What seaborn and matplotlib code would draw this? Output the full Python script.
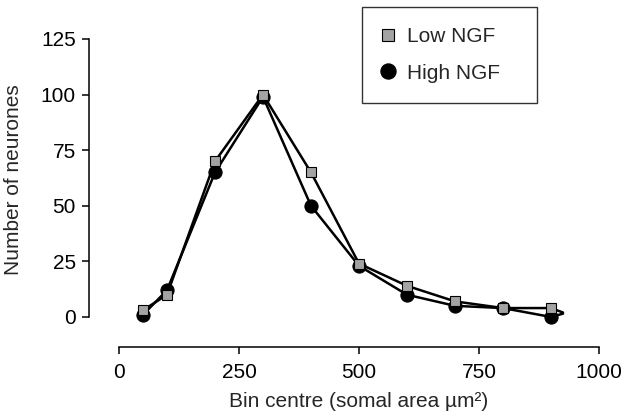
import numpy as np
import pandas as pd
import matplotlib
matplotlib.use('Agg')
import matplotlib.pyplot as plt
import seaborn as sns
from matplotlib.lines import Line2D

sns.set_style('white')
plt.rcParams['font.family'] = ['Liberation Sans', 'DejaVu Sans']

# data (last bin has no marker, the lines just run on a bit)
bin_centre = [50, 100, 200, 300, 400, 500, 600, 700, 800, 900, 925]
low_ngf = [3, 10, 70, 100, 65, 24, 14, 7, 4, 4, 2]
high_ngf = [1, 12, 65, 99, 50, 23, 10, 5, 4, 0, 1.5]
n_marked = 10

x_ticks = [0, 250, 500, 750, 1000]
y_ticks = [0, 25, 50, 75, 100, 125]

df = pd.DataFrame({'bin': bin_centre, 'low': low_ngf, 'high': high_ngf})

fig = plt.figure(figsize=(6.32, 4.18), dpi=100)
ax = fig.add_axes([0.1408, 0.1699, 0.807, 0.7368])

sq_face = '#a3a3a3'
sns.lineplot(data=df, x='bin', y='high', ax=ax, color='black', lw=1.8,
             marker='o', markersize=9.5, markerfacecolor='black',
             markeredgecolor='black', markevery=list(range(n_marked)), zorder=3)
sns.lineplot(data=df, x='bin', y='low', ax=ax, color='black', lw=1.8,
             marker='s', markersize=7.5, markerfacecolor=sq_face,
             markeredgecolor='black', markeredgewidth=0.8,
             markevery=list(range(n_marked)), zorder=4)

ax.set_xlim(-62.5, 1000)
ax.set_ylim(-13.5, 125)
ax.set_xticks(x_ticks)
ax.set_yticks(y_ticks)

for s in ['top', 'right']:
    ax.spines[s].set_visible(False)
ax.spines['left'].set_bounds(0, 125)
ax.spines['bottom'].set_bounds(0, 1000)
for s in ['left', 'bottom']:
    ax.spines[s].set_color('black')
    ax.spines[s].set_linewidth(1.1)

ax.tick_params(axis='y', direction='out', length=5, width=1.1, pad=4.5,
               labelsize=15, left=True, colors='black')
ax.tick_params(axis='x', direction='out', length=5, width=1.1, pad=6.5,
               labelsize=15, bottom=True, colors='black')

ax.set_xlabel('Bin centre (somal area µm²)', fontsize=15)
ax.set_ylabel('Number of neurones', fontsize=15)
ax.xaxis.set_label_coords(0.529, -0.146)
ax.yaxis.set_label_coords(-0.129, 0.542)

handles = [
    Line2D([], [], ls='none', marker='s', markersize=8.6, markerfacecolor=sq_face,
           markeredgecolor='black', markeredgewidth=0.8),
    Line2D([], [], ls='none', marker='o', markersize=10.8, markerfacecolor='black',
           markeredgecolor='black'),
]
leg = fig.legend(handles, ['Low NGF', 'High NGF'], loc='upper left',
                 bbox_to_anchor=(0.572, 0.759, 0.2777, 0.225), mode='expand',
                 fontsize=15, frameon=True, fancybox=False, edgecolor='black',
                 borderpad=0.97, labelspacing=0.85, handletextpad=0.57,
                 borderaxespad=0, handlelength=0.62)
leg.get_frame().set_linewidth(1.0)

fig.savefig('out.png', dpi=100)
